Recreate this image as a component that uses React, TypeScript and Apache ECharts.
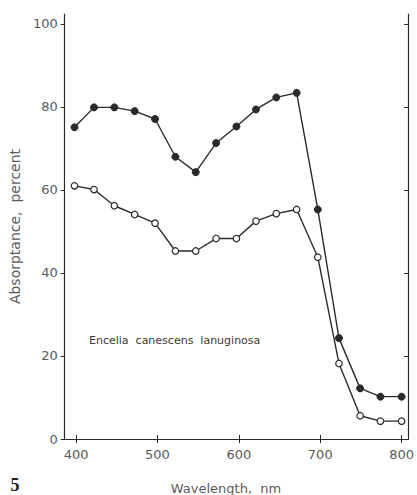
import React, { useEffect, useRef } from "react";
import * as echarts from "echarts";

const wavelengths = [398, 422, 447, 472, 497, 522, 547, 572, 597, 621, 646, 671, 697, 723, 749, 774, 800];
const filledValues = [75.1, 79.9, 79.9, 79.0, 77.1, 68.0, 64.3, 71.3, 75.3, 79.4, 82.3, 83.4, 55.3, 24.3, 12.2, 10.2, 10.2];
const openValues = [61.0, 60.1, 56.2, 54.1, 52.0, 45.3, 45.3, 48.3, 48.3, 52.5, 54.3, 55.3, 43.8, 18.2, 5.6, 4.3, 4.3];
const xTicks = [400, 500, 600, 700, 800];
const yTicks = [0, 20, 40, 60, 80, 100];
const speciesName = "Encelia  canescens  lanuginosa";
const xTitle = "Wavelength,  nm";
const yTitle = "Absorptance,  percent";
const figureNumber = "5";

const FONT = "DejaVu Sans";
const INK = "#2a2a2a";
const LABEL = "#5a5a5a";

export default function App() {
  const ref = useRef<HTMLDivElement>(null);
  useEffect(() => {
    if (!ref.current) return;
    const chart = echarts.init(ref.current, null, { renderer: "svg" });
    const pair = (vals: number[]) => wavelengths.map((w, i) => [w, vals[i]]);
    const baseX = {
      type: "value" as const,
      min: 386,
      max: 808,
      splitLine: { show: false },
      axisLine: { show: true, lineStyle: { color: INK, width: 1.2 } },
    };
    const baseY = {
      type: "value" as const,
      min: 0,
      max: 102.4,
      splitLine: { show: false },
      axisLine: { show: true, lineStyle: { color: INK, width: 1.2 } },
    };
    chart.setOption({
      animation: false,
      backgroundColor: "#ffffff",
      grid: { left: 63, right: 4, top: 14, bottom: 56, containLabel: false },
      xAxis: [
        {
          ...baseX,
          position: "bottom",
          axisTick: { show: true, inside: true, length: 4, customValues: xTicks, lineStyle: { color: INK } },
          axisLabel: { customValues: xTicks, margin: 9, color: LABEL, fontFamily: FONT, fontSize: 13 },
        },
        {
          ...baseX,
          position: "top",
          axisTick: { show: true, inside: true, length: 4, customValues: xTicks, lineStyle: { color: INK } },
          axisLabel: { show: false },
        },
      ],
      yAxis: [
        {
          ...baseY,
          position: "left",
          axisTick: { show: true, inside: false, length: 4, customValues: yTicks, lineStyle: { color: INK } },
          axisLabel: { customValues: yTicks, margin: 7, color: LABEL, fontFamily: FONT, fontSize: 13 },
          name: yTitle,
          nameLocation: "middle",
          nameGap: 41,
          nameTextStyle: { color: LABEL, fontFamily: FONT, fontSize: 14 },
        },
        {
          ...baseY,
          position: "right",
          axisTick: { show: true, inside: true, length: 4, customValues: yTicks, lineStyle: { color: INK } },
          axisLabel: { show: false },
        },
      ],
      series: [
        {
          type: "line",
          data: pair(filledValues),
          symbol: "circle",
          symbolSize: 7,
          showAllSymbol: true,
          lineStyle: { color: INK, width: 1.4 },
          itemStyle: { color: INK, borderColor: INK, borderWidth: 1 },
        },
        {
          type: "line",
          data: pair(openValues),
          symbol: "circle",
          symbolSize: 6.5,
          showAllSymbol: true,
          lineStyle: { color: INK, width: 1.4 },
          itemStyle: { color: "#ffffff", borderColor: INK, borderWidth: 1.2 },
        },
      ],
      graphic: [
        {
          type: "text",
          left: 89,
          top: 335,
          style: { text: speciesName, fill: "#3a3a3a", font: `11px "${FONT}"` },
        },
        {
          type: "text",
          x: 226,
          y: 488,
          style: { text: xTitle, fill: LABEL, font: `13px "${FONT}"`, align: "center", verticalAlign: "middle" },
        },
        {
          type: "text",
          x: 15,
          y: 485,
          style: { text: figureNumber, fill: "#222", font: `bold 18px "Liberation Serif"`, align: "center", verticalAlign: "middle" },
        },
      ],
    });
    return () => chart.dispose();
  }, []);
  return <div ref={ref} style={{ width: 417, height: 495, position: "absolute", left: 0, top: 0 }} />;
}
